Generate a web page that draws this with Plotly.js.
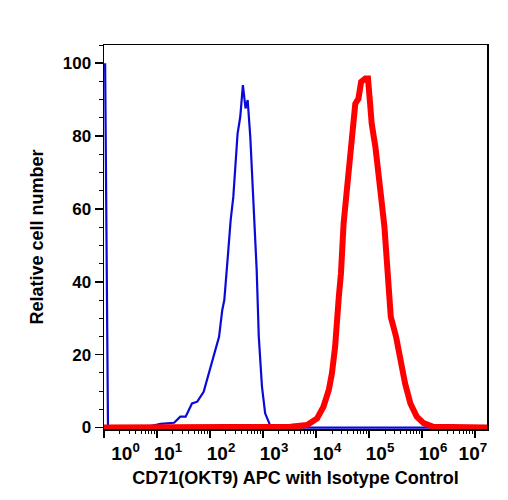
<!DOCTYPE html>
<html>
<head>
<meta charset="utf-8">
<script src="https://cdn.plot.ly/plotly-3.0.1.min.js"></script>
<style>html,body{margin:0;padding:0;background:#fff;}#chart{width:508px;height:500px;}</style>
</head>
<body>
<div id="chart"></div>
<script>
// Isotype control (blue) histogram: fluorescence intensity vs relative cell number
const isotypeX = [1.05, 1.19, 3.2, 7.6, 11.7, 21, 27.5, 34.7, 45.7, 57.5, 75.9, 102, 126, 148, 170, 186, 219, 245, 275, 316, 331, 372, 417, 468, 513, 575, 661, 759, 832, 955, 1096, 1380, 2000, 17000000];
const isotypeY = [100, 0, 0.2, 0.4, 1.0, 1.3, 3.0, 3.0, 6.6, 7.1, 9.8, 16.7, 21.3, 24.9, 32.2, 35.0, 47.8, 56.9, 63.3, 78.0, 80.7, 85.3, 94.0, 87.6, 89.9, 79.8, 63.3, 43.2, 24.9, 11.2, 3.9, 0.4, 0, 0];

// CD71 (OKT9) APC stained (red) histogram
const cd71X = [1, 3300, 6760, 10470, 13800, 17400, 19950, 22900, 26900, 29500, 33100, 38000, 44700, 50100, 55000, 63100, 70800, 85100, 95500, 104700, 112200, 131800, 144500, 166000, 195000, 223900, 257000, 323600, 398000, 478600, 602600, 794300, 1071500, 1622000, 17000000];
const cd71Y = [0, 0.2, 0.7, 2.5, 5.7, 10.3, 14.9, 22.2, 35.9, 42.3, 56.0, 64.2, 73.4, 79.8, 88.9, 90.3, 94.9, 95.8, 95.8, 88.9, 83.4, 77.0, 70.6, 64.2, 55.1, 44.1, 30.4, 24.9, 17.6, 12.1, 6.6, 3.0, 1.2, 0.2, 0];

const xTickVals = [1, 10, 100, 1000, 10000, 100000, 1000000, 10000000];
const xTickText = ["\u00a0\u00a0\u00a0\u00a010<sup>0</sup>", "10<sup>1</sup>", "10<sup>2</sup>", "10<sup>3</sup>", "10<sup>4</sup>", "10<sup>5</sup>", "10<sup>6</sup>", "10<sup>7</sup>\u00a0\u00a0\u00a0\u00a0\u00a0"];
const yTickVals = [0, 20, 40, 60, 80, 100];

const xTitle = "CD71(OKT9) APC with Isotype Control";
const yTitle = "Relative cell number";

const FONT = "Liberation Sans, Arial, Helvetica, sans-serif";

const traces = [
  {x: isotypeX, y: isotypeY, type: 'scatter', mode: 'lines', name: 'Isotype',
   line: {color: '#0a0ad8', width: 2.2}},
  {x: cd71X, y: cd71Y, type: 'scatter', mode: 'lines', name: 'CD71',
   line: {color: '#ff0000', width: 6}}
];

const layout = {
  width: 508, height: 500,
  margin: {l: 103.5, r: 21, t: 45, b: 71},
  paper_bgcolor: '#fff', plot_bgcolor: '#fff',
  showlegend: false,
  font: {family: FONT, color: '#000'},
  xaxis: {
    type: 'log', range: [0, 7.225],
    tickvals: xTickVals, ticktext: xTickText,
    ticks: 'outside', ticklen: 7, tickwidth: 1.5, tickcolor: '#000',
    ticklabelshift: 11, ticklabeloverflow: 'allow',
    tickfont: {family: FONT, size: 19, weight: 'bold', color: '#000'},
    minor: {ticks: 'outside', ticklen: 3.5, tickwidth: 1, tickcolor: '#000', dtick: 'D1', showgrid: false},
    showline: true, linecolor: '#000', linewidth: 1.5, mirror: true,
    showgrid: false, zeroline: false,
    title: {text: xTitle, font: {family: FONT, size: 18, weight: 'bold', color: '#000'}, standoff: 8},
    automargin: false
  },
  yaxis: {
    range: [-0.4, 105],
    tickvals: yTickVals,
    ticks: 'outside', ticklen: 8, tickwidth: 1.5, tickcolor: '#000',
    tickfont: {family: FONT, size: 17, weight: 'bold', color: '#000'},
    minor: {ticks: 'outside', ticklen: 4, tickwidth: 1, tickcolor: '#000', dtick: 5, showgrid: false},
    showline: true, linecolor: '#000', linewidth: 1.5, mirror: true,
    showgrid: false, zeroline: false,
    title: {text: yTitle, font: {family: FONT, size: 18, weight: 'bold', color: '#000'}, standoff: 14},
    automargin: false
  }
};

Plotly.newPlot('chart', traces, layout, {displayModeBar: false, staticPlot: true});
</script>
</body>
</html>
